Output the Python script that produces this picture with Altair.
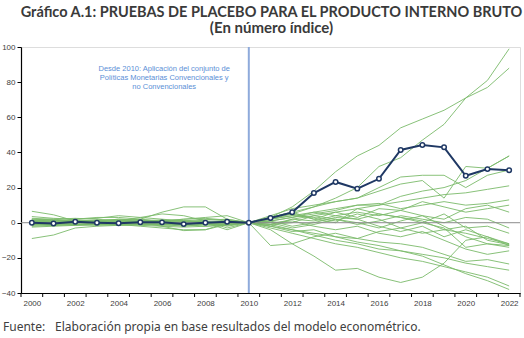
import altair as alt
import pandas as pd

years = list(range(2000, 2023))

# Observed series (dark line with markers)
pib_observado = [0, -0.5, 0.5, 0, -0.3, 0.3, 0.2, -0.8, 0, 0.5, 0,
                 2.7, 5.9, 16.9, 23.2, 19.4, 25.0, 41.4, 44.2, 42.9, 26.7, 30.5, 29.8]

# Placebo series: 2000-2009 values
placebo_pre = [
    [1, 0.5, 1, 0.5, 0, 0.5, 0, -1, 0, 0.5],
    [2, 1.5, 1, 1.5, 1.5, 1, 0.5, 0, -0.5, 0],
    [6.5, 4.5, 1, 1, 2, 1.5, 1, 0, -1, -1],
    [-9, -7, -3, -2, -1.5, -1, -1, -1, -2, -1],
    [3.5, 2.5, 2, 3, 3, 2, 1, 1, 2, 1],
    [-1, -1, 0, 1, 1, 2, 6, 9, 9, 2],
    [0, 1, 2, 2.5, 4, 3, 2, 1, 0, -4],
    [1, 0, -1, 0, 1, 3, 5, 4, 1, -3],
    [-1, -1.5, -1, -0.5, -1, -2, -3, -4, -4, -1],
    [0.5, 1, 1.5, 1, 0.5, 0, -2, -4.5, -4, 0],
    [-2, -1.5, -1, -1, -0.5, 0, 1, 2, 3, 4],
    [1.5, 2, 2.5, 2, 1, 0.5, -1, -2, -1, 0.5],
    [-0.5, 0, 0.5, 1, 2, 1.5, 1, 2, 2.5, 1.5],
    [0, -0.5, -1, -1.5, -1, -0.5, 0, 0.5, 1, -2],
    [2.5, 2, 1, 0.5, 0, 0, 0.5, 1, 0.5, 0],
    [-2.5, -2, -1.5, -1, -1, -1.5, -2, -2.5, -2, -1.5],
    [1, 1.5, 1, 0, -0.5, -1, -1.5, -1, 0, 1],
    [-1.5, -1, 0, 0.5, 1, 0.5, 0, -0.5, -1, -0.5],
    [0.5, 0, -0.5, -1, -1.5, -1, -0.5, 0.5, 1.5, 2],
    [-0.5, -1, -1.5, -1, 0, 1, 1.5, 1, 0, -1],
    [1.5, 1, 0.5, 0, 0.5, 1, 1.5, 1, 0.5, 0],
    [-1, -0.5, 0, 0.5, 0, -0.5, -1, -1.5, -1, -0.5],
]

# Placebo series: 2011-2022 values (2010 = 0 for all)
placebo_post = [
    [2, 5, 9, 14, 20, 32, 37, 47, 56, 71, 81, 99],
    [3, 9, 18, 29, 38, 44, 54, 59, 64, 71, 77, 88],
    [3, 6, 9, 12, 14, 18, 22, 24, 14, 32, 31, 38],
    [-2, 2, 4, 6, 8, 10, 15, 18, 20, 24, 31, 38],
    [4, 8, 10, 12, 14, 20, 26, 27, 27, 20, 27, 30],
    [2, 4, 6, 8, 10, 10, 12, 14, 16, 17, 19, 21],
    [1, 3, 5, 7, 10, 11, 8, 10, 12, 10, 11, 13],
    [3, 5, 2, 6, 3, 8, 7, 12, 9, 6, 8, 10],
    [-1, 2, 1, 4, 6, 4, 7, 4, 2, 8, 10, 6],
    [2, 4, 3, 1, 5, 2, -3, 0, 5, -3, -2, -6],
    [1, -2, 0, 3, 2, -2, -5, -2, -8, -4, -8, -12],
    [-13, -12, -8, -6, -9, -5, -3, -6, -4, -2, -10, -12.5],
    [3, 6, 2, 0, 8, 5, 3, 0, -3, -14, -12, -13],
    [0, 1, -2, -4, -2, -6, -8, -5, -10, -15, -18, -16],
    [-1, 0, 4, 2, 0, -3, 1, 4, -2, -8, -12, -14],
    [-2, -5, -4, -8, -9, -11, -12, -14, -18, -22, -21, -23.5],
    [-1, -4, -7, -10, -12, -15, -16, -18, -20, -23, -25, -27],
    [-3, -6, -9, -12, -14, -17, -20, -22, -25, -28, -31, -36],
    [-4, -12, -19, -27, -26, -31, -34, -31, -23, -10, -8, -13],
    [1, 3, 6, 4, 2, 5, 3, 1, -4, -6, -9, -12],
    [0, -3, -1, 2, -1, 1, 4, 2, 0, 3, 2, -3],
    [-2, -4, -6, -8, -11, -13, -16, -19, -24, -29, -33, -38],
]

y_ticks = [-40, -20, 0, 20, 40, 60, 80, 100]
x_labels = list(range(2000, 2023, 2))
x_tick_marks = [1999.5 + i for i in range(24)]
anio_politica = [2010]
linea_cero = [0]

titulo = "Gráfico A.1: PRUEBAS DE PLACEBO PARA EL PRODUCTO INTERNO BRUTO"
subtitulo = "(En número índice)"
nota_lineas = ["Desde 2010: Aplicación del conjunto de",
               "Políticas Monetarias Convencionales y",
               "no Convencionales"]
nota_y = [87.4, 82.1, 77.0]
nota_x = 2006.1
fuente_a = "Fuente:"
fuente_b = "Elaboración propia en base resultados del modelo econométrico."

rows = []
for i, (pre, post) in enumerate(zip(placebo_pre, placebo_post)):
    vals = pre + [0] + post
    for yr, v in zip(years, vals):
        rows.append({"serie": f"p{i:02d}", "anio": yr, "valor": v})
df_placebo = pd.DataFrame(rows)
df_obs = pd.DataFrame({"anio": years, "valor": pib_observado})
df_nota = pd.DataFrame({"t": nota_lineas, "valor": nota_y, "anio": [nota_x] * 3})
df_ticks = pd.DataFrame({"anio": x_tick_marks})
df_vline = pd.DataFrame({"anio": anio_politica})
df_zero = pd.DataFrame({"valor": linea_cero})
df_one = pd.DataFrame({"k": [1]})

W, H = 499, 246
xscale = alt.Scale(domain=[1999.5, 2022.5], nice=False, zero=False)
yscale = alt.Scale(domain=[-40, 100], nice=False)

xaxis = alt.Axis(values=x_labels, format="d", title=None, grid=False, ticks=False,
                 domainColor="black", domainWidth=1.2, labelFont="Liberation Sans",
                 labelFontSize=8, labelColor="#404040", labelPadding=6,
                 labelFlush=False, labelOverlap=False)
yaxis = alt.Axis(values=y_ticks, title=None, grid=False, tickSize=4,
                 tickColor="black", domainColor="black", domainWidth=1.2,
                 labelFont="Liberation Sans", labelFontSize=8, labelOverlap=False,
                 labelColor="#404040", labelPadding=2)

X = alt.X("anio:Q", scale=xscale, axis=xaxis)
Y = alt.Y("valor:Q", scale=yscale, axis=yaxis)

green = alt.Chart(df_placebo).mark_line(color="#7bba6a", strokeWidth=1.0, opacity=0.9).encode(
    x=X, y=Y, detail="serie:N")

xticks = alt.Chart(df_ticks).mark_rule(color="black", strokeWidth=1).encode(
    x=X, y=alt.value(H), y2=alt.value(H + 4))

zero = alt.Chart(df_zero).mark_rule(color="#8c8c8c", strokeWidth=1).encode(y=Y)
vline = alt.Chart(df_vline).mark_rule(color="#8eaadb", strokeWidth=2).encode(x=X)

obs_line = alt.Chart(df_obs).mark_line(color="#1f3864", strokeWidth=2).encode(x=X, y=Y)
obs_pts = alt.Chart(df_obs).mark_point(shape="circle", filled=True, fill="white",
                                       stroke="#1f3864", strokeWidth=1.5, size=20,
                                       opacity=1).encode(x=X, y=Y)

nota = alt.Chart(df_nota).mark_text(color="#5b8fd6", font="Liberation Sans",
                                    fontSize=7.5, align="center", baseline="middle").encode(
    x=X, y=Y, text="t:N")

fa = alt.Chart(df_one).mark_text(text=fuente_a, align="left", baseline="middle",
                                 font="Noto Sans", fontSize=12, fontWeight="normal",
                                 color="#404040").encode(
    x=alt.value(-18), y=alt.value(280))
fb = alt.Chart(df_one).mark_text(text=fuente_b, align="left", baseline="middle",
                                 font="Noto Sans", fontSize=12, fontWeight="normal",
                                 color="#404040").encode(
    x=alt.value(34), y=alt.value(280))

chart = alt.layer(green, xticks, zero, vline, obs_line, obs_pts, nota, fa, fb).properties(
    width=W, height=H,
    title=alt.TitleParams(text=titulo, subtitle=subtitulo, anchor="middle",
                          font="Lato", fontSize=14.5, fontWeight="bold", color="#3a3a3a",
                          subtitleFont="Lato", subtitleFontSize=15,
                          subtitleFontWeight="bold", subtitleColor="#3a3a3a",
                          subtitlePadding=1, offset=6, dx=1),
    autosize=alt.AutoSizeParams(type="none"),
    padding={"left": 21, "top": 47, "right": 4, "bottom": 45},
).configure_view(stroke="#a6a6a6", strokeWidth=1.2).configure_axis(
    labelOverlap=False).configure(background="white")

chart.save("out.html", embed_options={"renderer": "svg", "actions": False})
